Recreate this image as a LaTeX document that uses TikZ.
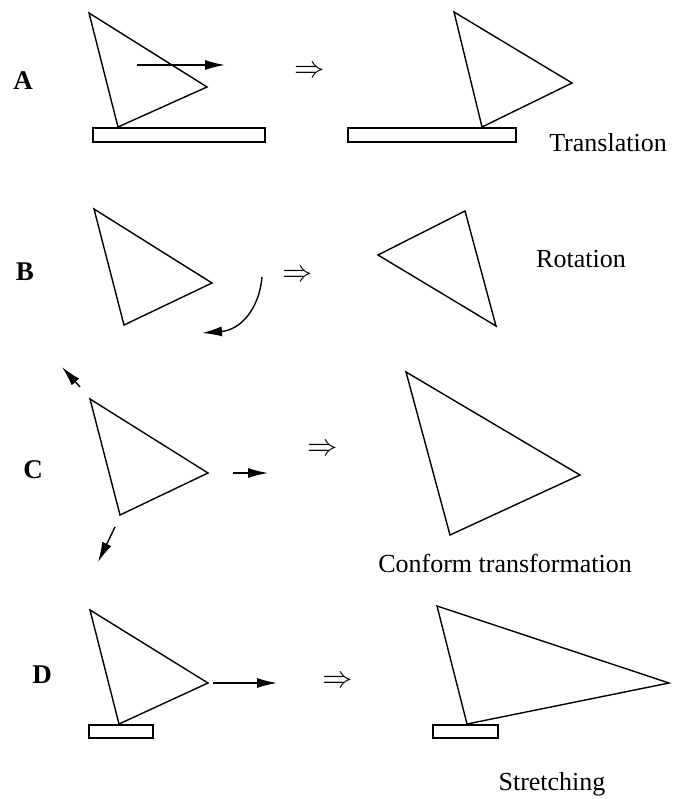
\documentclass[tikz,border=0pt]{standalone}
\usepackage{fontspec}
\setmainfont{Liberation Serif}
\usetikzlibrary{arrows.meta}
\newcommand{\bigimpl}{\scalebox{1.22}{$\Rightarrow$}}
\begin{document}
\begin{tikzpicture}[x=1pt,y=-1pt,
  edgeline/.style={line width=1.4pt, line join=miter},
  basebox/.style={draw, line width=1.4pt},
  mv/.style={line width=1.4pt, -{Latex[length=20pt,width=10pt]}},
  lab/.style={font=\fontsize{27}{30}\selectfont\bfseries, anchor=base, inner sep=0},
  captxt/.style={font=\fontsize{26}{30}\selectfont, anchor=base, inner sep=0},
  impl/.style={font=\fontsize{24.88}{30}\selectfont, inner sep=0}]
\useasboundingbox (0,0) rectangle (673,799);

% ---------- A : translation ----------
\node[lab] (la) at (23,90) {A};
\coordinate (a1) at (89,13); \coordinate (a2) at (207,87); \coordinate (a3) at (118,127);
\draw[edgeline] (a1) -- (a2) -- (a3) -- cycle;
\draw[basebox] (93,128) rectangle (265,142);
\coordinate (am0) at (137,65); \coordinate (am1) at (225,65);
\draw[mv] (am0) -- (am1);
\node[impl] (ia) at (310,72) {\bigimpl};
\coordinate (b1) at (454,12); \coordinate (b2) at (572,83); \coordinate (b3) at (482,127);
\draw[edgeline] (b1) -- (b2) -- (b3) -- cycle;
\draw[basebox] (348,128) rectangle (516,142);
\node[captxt] (ta) at (608,152) {Translation};

% ---------- B : rotation ----------
\node[lab] (lb) at (25,280) {B};
\coordinate (c1) at (94,209); \coordinate (c2) at (212,283); \coordinate (c3) at (124,325);
\draw[edgeline] (c1) -- (c2) -- (c3) -- cycle;
\coordinate (bm0) at (262,277); \coordinate (bm1) at (202,333);
\draw[mv] (bm0) .. controls (259,310) and (240,330) .. (bm1);
\node[impl] (ib) at (298,276) {\bigimpl};
\coordinate (d1) at (465,211); \coordinate (d2) at (378,255); \coordinate (d3) at (496,326);
\draw[edgeline] (d1) -- (d2) -- (d3) -- cycle;
\node[captxt] (tb) at (581,267) {Rotation};

% ---------- C : conform transformation ----------
\node[lab] (lc) at (33,478) {C};
\coordinate (e1) at (90,399); \coordinate (e2) at (208,473); \coordinate (e3) at (120,515);
\draw[edgeline] (e1) -- (e2) -- (e3) -- cycle;
\coordinate (cm0) at (80,387); \coordinate (cm1) at (62,367);
\draw[mv] (cm0) -- (cm1);
\coordinate (cm2) at (233,473); \coordinate (cm3) at (268,473);
\draw[mv] (cm2) -- (cm3);
\coordinate (cm4) at (115,527); \coordinate (cm5) at (98,562);
\draw[mv] (cm4) -- (cm5);
\node[impl] (ic) at (323,450) {\bigimpl};
\coordinate (f1) at (406,372); \coordinate (f2) at (580,475); \coordinate (f3) at (450,535);
\draw[edgeline] (f1) -- (f2) -- (f3) -- cycle;
\node[captxt] (tc) at (505,572) {Conform transformation};

% ---------- D : stretching ----------
\node[lab] (ld) at (42,683) {D};
\coordinate (g1) at (90,610); \coordinate (g2) at (208,683); \coordinate (g3) at (119,724);
\draw[edgeline] (g1) -- (g2) -- (g3) -- cycle;
\draw[basebox] (89,725) rectangle (153,738);
\coordinate (dm0) at (213,683); \coordinate (dm1) at (277,683);
\draw[mv] (dm0) -- (dm1);
\node[impl] (id) at (338,682) {\bigimpl};
\coordinate (h1) at (437,606); \coordinate (h2) at (669,683); \coordinate (h3) at (467,724);
\draw[edgeline] (h1) -- (h2) -- (h3) -- cycle;
\draw[basebox] (433,725) rectangle (498,738);
\node[captxt] (td) at (552,790) {Stretching};
\end{tikzpicture}
\end{document}
